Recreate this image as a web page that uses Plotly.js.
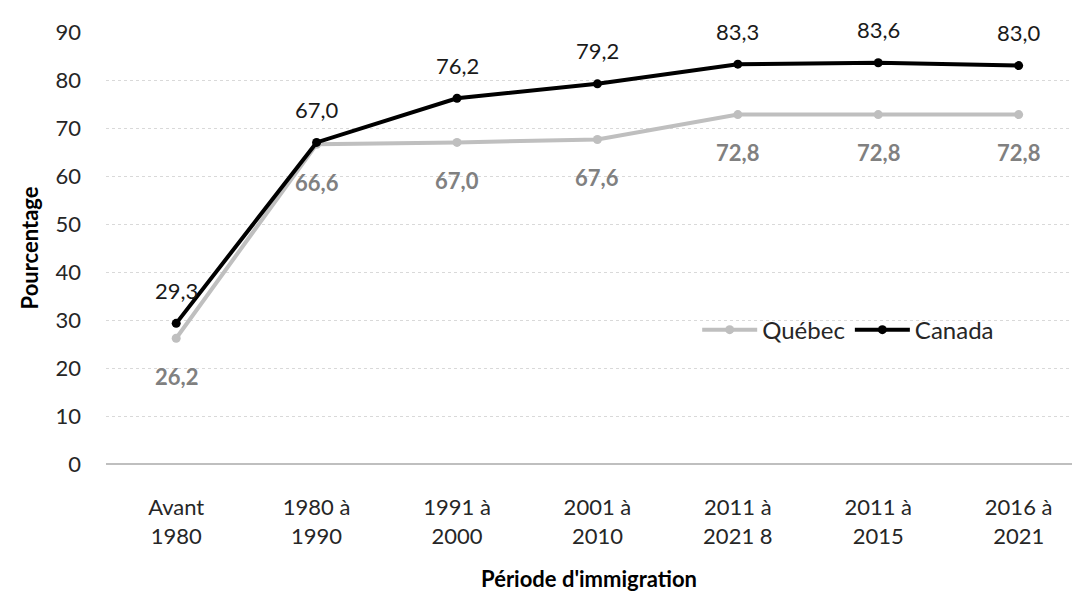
<!DOCTYPE html>
<html><head><meta charset="utf-8">
<script src="https://cdn.plot.ly/plotly-3.0.1.min.js"></script>
<style>body{margin:0;background:#fff}#c{width:1082px;height:598px}</style>
</head><body><div id="c"></div>
<script>
const categories = ["Avant<br>1980","1980 à<br>1990","1991 à<br>2000","2001 à<br>2010","2011 à<br>2021 8","2011 à<br>2015","2016 à<br>2021"];
const quebec = [26.2, 66.6, 67.0, 67.6, 72.8, 72.8, 72.8];
const canada = [29.3, 67.0, 76.2, 79.2, 83.3, 83.6, 83.0];
const yTicks = [0,10,20,30,40,50,60,70,80,90];
const fmt = v => v.toFixed(1).replace('.', ',');
const xs = categories.map((_, i) => i);
const F = "Lato, 'Open Sans', sans-serif";
const traces = [
  {x: xs, y: quebec, name: "Québec", type: "scatter", mode: "lines+markers",
   line: {color: "#BFBFBF", width: 4}, marker: {color: "#BFBFBF", size: 9}},
  {x: xs, y: canada, name: "Canada", type: "scatter", mode: "lines+markers",
   line: {color: "#000000", width: 4}, marker: {color: "#000000", size: 9}}
];
const annotations = [];
xs.forEach(i => {
  annotations.push({x: i, y: canada[i], text: fmt(canada[i]), showarrow: false, yshift: 33,
    font: {family: F, size: 22, color: "#1a1a1a"}});
  annotations.push({x: i, y: quebec[i], text: fmt(quebec[i]), showarrow: false, yshift: -38,
    font: {family: F, size: 22, color: "#808080", weight: "bold"}});
});
const layout = {
  width: 1082, height: 598,
  margin: {l: 106, r: 10, t: 32, b: 134},
  paper_bgcolor: "#fff", plot_bgcolor: "#fff",
  font: {family: F, size: 22, color: "#262626"},
  showlegend: true,
  annotations: annotations,
  legend: {orientation: "h", x: 0.612, y: 0.31, xanchor: "left", yanchor: "middle",
           itemwidth: 55, tracegroupgap: 0,
           font: {family: F, size: 24, color: "#262626"}, bgcolor: "rgba(0,0,0,0)"},
  xaxis: {range: [-0.5, 6.38], tickvals: xs, ticktext: categories, showgrid: false,
          zeroline: false, showline: false, ticks: "", ticklabelstandoff: 28,
          tickfont: {family: F, size: 22, color: "#262626"},
          title: {text: "Période d'immigration", font: {family: F, size: 22, color: "#000", weight: "bold"}, standoff: 24}},
  yaxis: {range: [0, 90], tickvals: yTicks, showgrid: true, gridcolor: "#D9D9D9", griddash: "dot",
          gridwidth: 1, zeroline: true, zerolinecolor: "#BFBFBF", zerolinewidth: 1.5,
          ticks: "", ticklabelstandoff: 24,
          tickfont: {family: F, size: 22, color: "#262626"},
          title: {text: "Pourcentage", font: {family: F, size: 22, color: "#000", weight: "bold"}, standoff: 10}}
};
Plotly.newPlot("c", traces, layout, {displayModeBar: false, staticPlot: true});
</script></body></html>
